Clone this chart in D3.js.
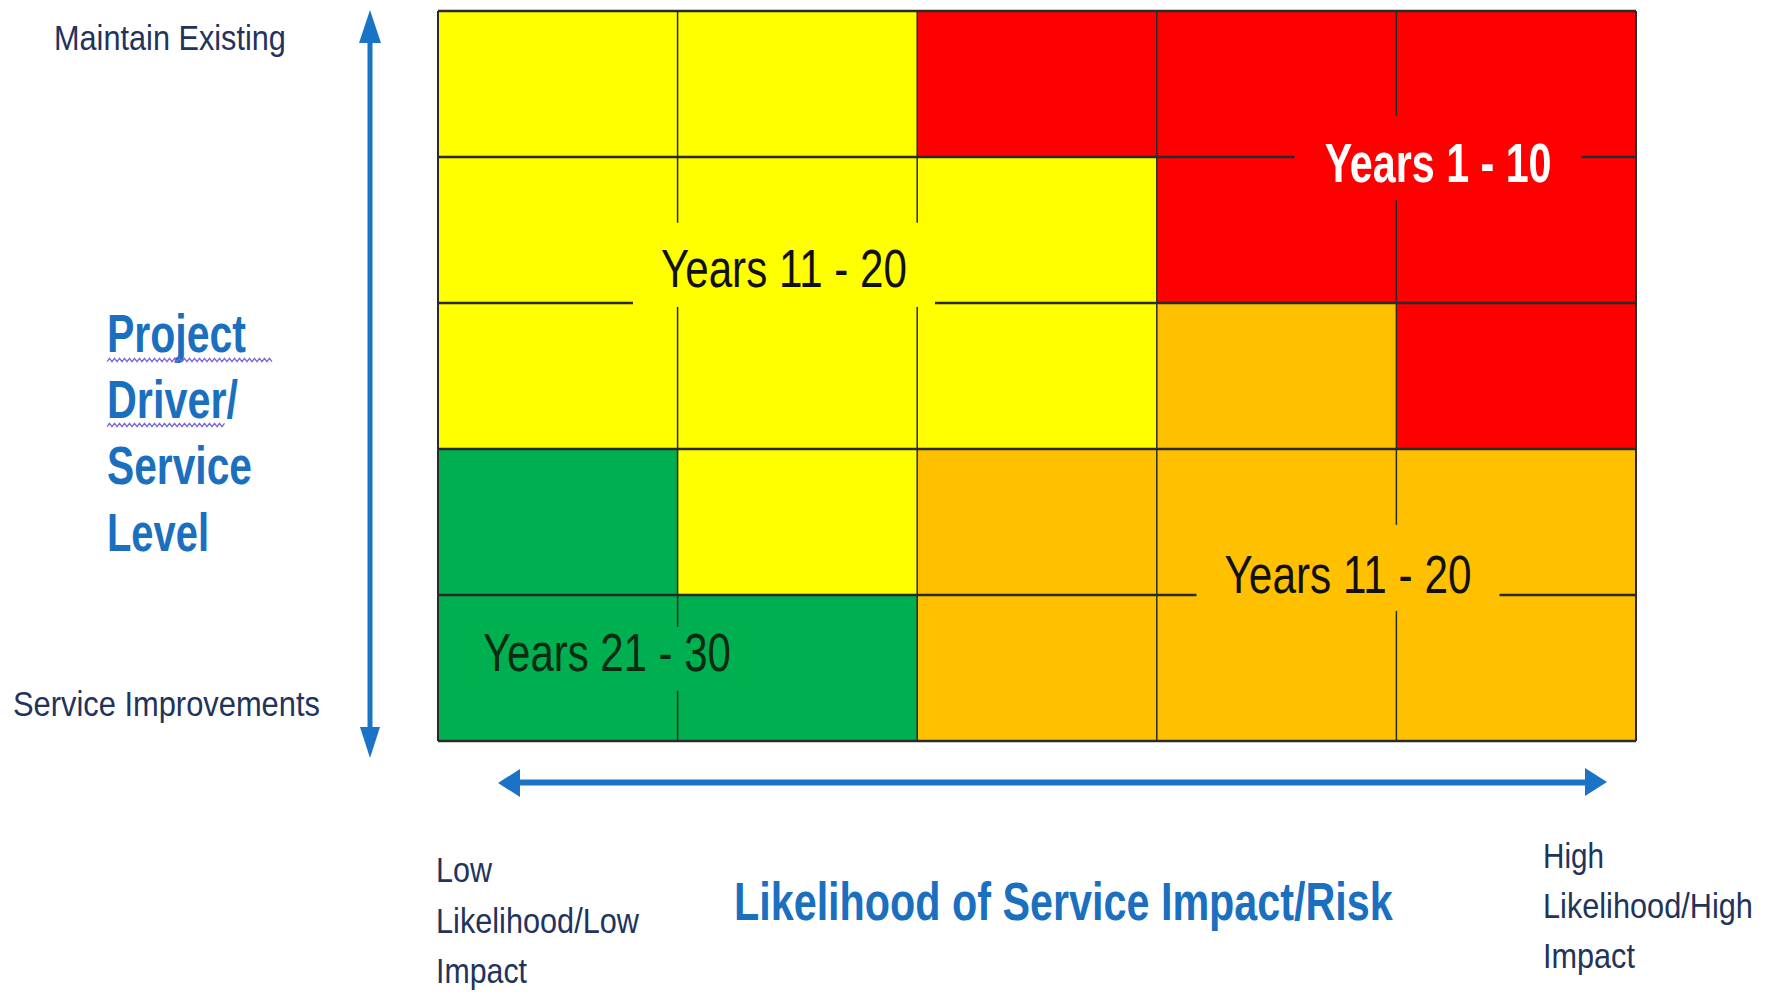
<!DOCTYPE html>
<html>
<head>
<meta charset="utf-8">
<script src="https://cdn.jsdelivr.net/npm/d3@7"></script>
<style>
  html, body { margin: 0; padding: 0; background: #ffffff; }
  svg { display: block; }
  text { font-family: "Liberation Sans", Arial, sans-serif; }
</style>
</head>
<body>
<svg id="chart" width="1765" height="992"></svg>
<script>
// ---------------- DATA ----------------
// columns: likelihood of service impact/risk (low -> high)
const likelihoodLevels = ["L1", "L2", "L3", "L4", "L5"];
// rows: project driver / service level (top = Maintain Existing, bottom = Service Improvements)
const serviceLevels = ["S1", "S2", "S3", "S4", "S5"];
// zone of each cell, row by row (top row first)
const zoneRow1 = ["yellow", "yellow", "red", "red", "red"];
const zoneRow2 = ["yellow", "yellow", "yellow", "red", "red"];
const zoneRow3 = ["yellow", "yellow", "yellow", "orange", "red"];
const zoneRow4 = ["green", "yellow", "orange", "orange", "orange"];
const zoneRow5 = ["green", "green", "orange", "orange", "orange"];
const zoneRows = [zoneRow1, zoneRow2, zoneRow3, zoneRow4, zoneRow5];

// zone labels: text and position in grid units (column, row)
const zoneLabelText = ["Years 1 - 10", "Years 11 - 20", "Years 11 - 20", "Years 21 - 30"];
const zoneLabelCol = [4.174, 1.444, 3.798, 0.705];
const zoneLabelRow = [1.171, 1.890, 3.986, 4.520];
const zoneLabelZone = ["red", "yellow", "orange", "green"];

const yAxisTop = "Maintain Existing";
const yAxisBottom = "Service Improvements";
const yAxisTitle = ["Project", "Driver/", "Service", "Level"];
const xAxisLeft = ["Low", "Likelihood/Low", "Impact"];
const xAxisRight = ["High", "Likelihood/High", "Impact"];
const xAxisTitle = "Likelihood of Service Impact/Risk";

// ---------------- STYLE ----------------
const zoneColor = { red: "#FF0000", yellow: "#FFFF00", orange: "#FFC000", green: "#00B050" };
const navy = "#22335c";
const blue = "#1A6FBF";

const svg = d3.select("#chart");
const grid = { left: 438, right: 1636, top: 11, bottom: 741 };

const x = d3.scaleBand().domain(likelihoodLevels).range([grid.left, grid.right]);
const y = d3.scaleBand().domain(serviceLevels).range([grid.top, grid.bottom]);
const gx = d3.scaleLinear().domain([0, likelihoodLevels.length]).range([grid.left, grid.right]);
const gy = d3.scaleLinear().domain([0, serviceLevels.length]).range([grid.top, grid.bottom]);

// cells
const cells = [];
zoneRows.forEach((row, ri) => row.forEach((z, ci) => cells.push({ r: serviceLevels[ri], c: likelihoodLevels[ci], z })));
svg.append("g").selectAll("rect").data(cells).join("rect")
  .attr("x", d => x(d.c)).attr("y", d => y(d.r))
  .attr("width", x.bandwidth()).attr("height", y.bandwidth())
  .attr("fill", d => zoneColor[d.z]);

// grid lines
const gl = svg.append("g").attr("stroke", "#2a2a2a");
gl.selectAll("line.h").data(d3.range(serviceLevels.length + 1)).join("line")
  .attr("class", "h")
  .attr("x1", grid.left).attr("x2", grid.right)
  .attr("y1", d => gy(d)).attr("y2", d => gy(d))
  .attr("stroke-width", 2.4);
gl.selectAll("line.v").data(d3.range(likelihoodLevels.length + 1)).join("line")
  .attr("class", "v")
  .attr("y1", grid.top).attr("y2", grid.bottom)
  .attr("x1", d => gx(d)).attr("x2", d => gx(d))
  .attr("stroke-width", d => (d === 0 || d === likelihoodLevels.length) ? 2 : 1.5);

// helper: text horizontally condensed to a given width, via transform
function fitText(g, t, xx, yy, size, weight, fill, len, anchor) {
  const grp = g.append("g");
  const txt = grp.append("text").attr("x", 0).attr("y", 0)
    .attr("font-size", size).attr("font-weight", weight).attr("fill", fill)
    .attr("text-anchor", anchor || "start").text(t);
  const natural = txt.node().getComputedTextLength();
  grp.attr("transform", `translate(${xx},${yy}) scale(${len / natural},1)`);
  return txt;
}

// zone labels with knockout boxes
const labelStyle = {
  red:    { size: 56, weight: "bold", fill: "#ffffff", len: 227, pad: [30, 26, 18] },
  yellow: { size: 53, weight: "normal", fill: "#111111", len: 246, pad: [28, 26, 20] },
  orange: { size: 53, weight: "normal", fill: "#111111", len: 247, pad: [28, 30, 18] },
  green:  { size: 53, weight: "normal", fill: "#0d2a12", len: 248, pad: [6, 6, 20] }
};
const lg = svg.append("g");
zoneLabelText.forEach((t, i) => {
  const z = zoneLabelZone[i];
  const st = labelStyle[z];
  const cx = gx(zoneLabelCol[i]);
  const by = gy(zoneLabelRow[i]);
  const capTop = by - st.size * 0.72;
  lg.append("rect").attr("fill", zoneColor[z])
    .attr("x", cx - st.len / 2 - st.pad[0])
    .attr("width", st.len + 2 * st.pad[0])
    .attr("y", capTop - st.pad[1])
    .attr("height", (by - capTop) + st.pad[1] + st.pad[2]);
  fitText(lg, t, cx, by, st.size, st.weight, st.fill, st.len, "middle");
});

const ax = svg.append("g");
// y-axis end labels
fitText(ax, yAxisTop, 54, 50, 36, "normal", navy, 232);
fitText(ax, yAxisBottom, 13, 716, 35, "normal", navy, 307);

// y-axis title
const yTitleBase = [352, 418, 484, 551];
const yTitleLen = [139, 131, 145, 102];
yAxisTitle.forEach((t, i) => fitText(ax, t, 107, yTitleBase[i], 54, "bold", blue, yTitleLen[i]));

// spell-check squiggles under first two title words
function squiggle(x0, x1, yy) {
  const pts = [];
  for (let xx = x0, k = 0; xx <= x1; xx += 2.5, k++) pts.push([xx, yy + (k % 2 ? -1.6 : 1.6)]);
  ax.append("path").attr("d", d3.line()(pts)).attr("fill", "none")
    .attr("stroke", "#7a68d8").attr("stroke-width", 1.3);
}
squiggle(107, 274, 360);
squiggle(107, 226, 425);

// x-axis end labels
const lowBase = [882, 933, 983];
const lowLen = [56, 203, 91];
xAxisLeft.forEach((t, i) => fitText(ax, t, 436, lowBase[i], 35, "normal", navy, lowLen[i]));
const highBase = [868, 918, 968];
const highLen = [61, 210, 92];
xAxisRight.forEach((t, i) => fitText(ax, t, 1543, highBase[i], 35, "normal", navy, highLen[i]));

// x-axis title
fitText(ax, xAxisTitle, 734, 920, 54, "bold", blue, 659);

// arrows
const arrowColor = "#1A73C6";
const ar = svg.append("g").attr("fill", arrowColor);
// vertical double arrow
ar.append("line").attr("x1", 370).attr("x2", 370).attr("y1", 38).attr("y2", 732)
  .attr("stroke", arrowColor).attr("stroke-width", 5);
ar.append("path").attr("d", "M370,10 L381,43 L359,43 Z");
ar.append("path").attr("d", "M370,758 L380,727 L360,727 Z");
// horizontal double arrow
ar.append("line").attr("x1", 515).attr("x2", 1590).attr("y1", 782.5).attr("y2", 782.5)
  .attr("stroke", arrowColor).attr("stroke-width", 6);
ar.append("path").attr("d", "M498,783 L520,769 L520,797 Z");
ar.append("path").attr("d", "M1607,782 L1585,768 L1585,796 Z");
</script>
</body>
</html>
